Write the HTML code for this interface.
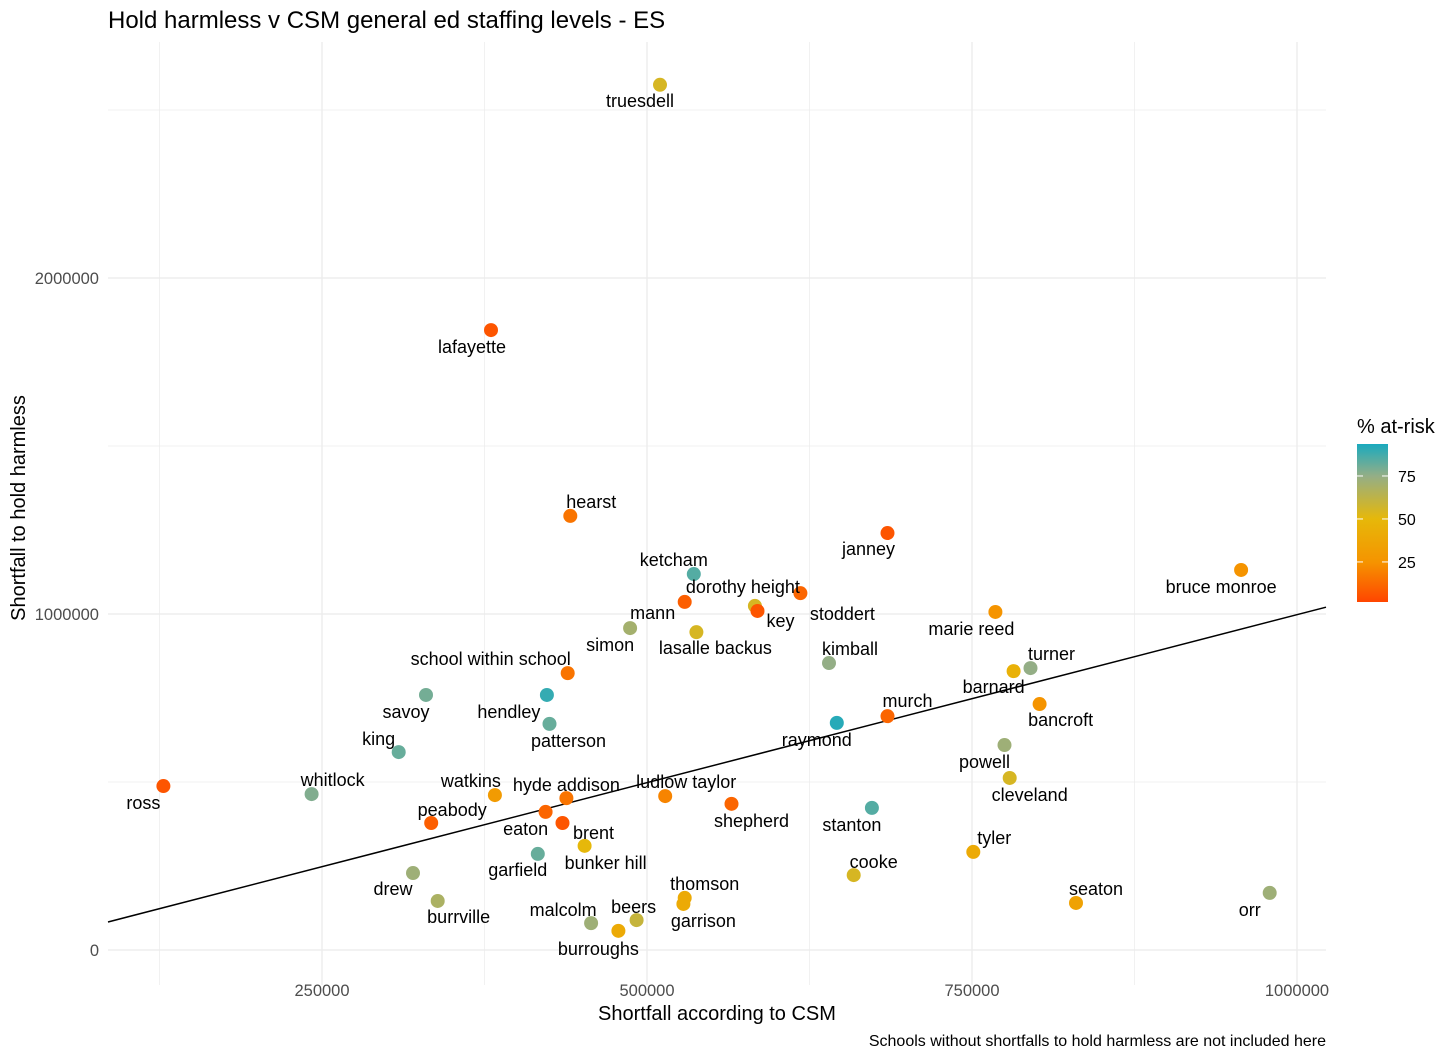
<!DOCTYPE html>
<html><head><meta charset="utf-8"><style>
body{margin:0;background:#fff;}
svg{display:block;font-family:"Liberation Sans",Arial,sans-serif;}
</style></head><body>
<svg id="chart" width="1456" height="1059" viewBox="0 0 1456 1059" xmlns="http://www.w3.org/2000/svg">
<text x="108" y="28" font-size="24" fill="#000">Hold harmless v CSM general ed staffing levels - ES</text>
<g id="grid"></g>
<g id="axes"></g>
<g id="line"></g>
<g id="points"></g>
<g id="labels"></g>
<text x="717" y="1020" font-size="20" text-anchor="middle" fill="#000">Shortfall according to CSM</text>
<text transform="translate(25,508) rotate(-90)" font-size="20" text-anchor="middle" fill="#000">Shortfall to hold harmless</text>
<text x="1326" y="1046" font-size="16" text-anchor="end" fill="#000">Schools without shortfalls to hold harmless are not included here</text>
<g id="legend">
<defs><linearGradient id="grad" x1="0" y1="1" x2="0" y2="0"></linearGradient></defs>
<text x="1357" y="433" font-size="20" fill="#000">% at-risk</text>
<rect x="1357" y="444" width="31" height="158" fill="url(#grad)"/>
</g>
</svg>
<script>
const names=["truesdell","mann","lafayette","hearst","janney","ketcham","dorothy height","key","stoddert","bruce monroe","marie reed","simon","lasalle backus","kimball","turner","barnard","bancroft","school within school","savoy","hendley","patterson","murch","raymond","king","powell","cleveland","ross","whitlock","watkins","hyde addison","ludlow taylor","shepherd","stanton","peabody","eaton","brent","bunker hill","garfield","tyler","cooke","drew","burrville","thomson","garrison","seaton","orr","malcolm","beers","burroughs"];
const csm=[510000,529000,380000,441000,685000,536000,583000,585000,618000,957000,768000,487000,538000,640000,795000,782000,802000,439000,330000,423000,425000,685000,646000,309000,775000,779000,128000,242000,383000,438000,514000,565000,673000,334000,422000,435000,452000,416000,751000,659000,320000,339000,529000,528000,830000,979000,457000,492000,478000];
const hold=[2575000,1036000,1845000,1292000,1241000,1119000,1024000,1009000,1062000,1131000,1006000,958000,946000,854000,839000,830000,732000,824000,759000,759000,673000,696000,676000,589000,610000,512000,488000,464000,461000,452000,458000,435000,423000,378000,411000,378000,310000,286000,292000,223000,229000,146000,155000,137000,140000,170000,80000,89000,57000];
const atRisk=[55,8,5,15,5,85,55,5,10,25,25,70,55,75,75,45,25,15,80,90,82,10,92,82,72,55,5,78,30,15,20,10,85,8,10,5,50,82,40,55,72,68,40,40,35,72,72,60,40];
const regSlope=[1.0];
const regIntercept=[-2000];
const xTicks=[250000,500000,750000,1000000];
const yTicks=[0,1000000,2000000];
const legendTicks=[25,50,75];
// label offsets (px, layout only)
const lblDx=[-20,-32,-19,21,-19,-20,-12,23,42,-20,-24,-20,19,21,21,-20,21,-77,-20,-38,19,20,-20,-20,-20,20,-20,21,-24,0,21,20,-20,21,-20,31,21,-20,21,20,-20,21,20,20,20,-20,-28,-3,-20];
const lblDy=[16,11,17,-14,16,-14,-19,10,21,17,17,17,16,-14,-14,16,16,-14,17,17,17,-15,17,-13,17,17,17,-14,-14,-13,-14,17,17,-13,17,10,17,16,-14,-13,16,16,-14,17,-14,17,-13,-13,18];

const X=v=>-3+v*325/250000;
const Y=v=>950-v*336/1000000;
const L0=108,L1=1326,T0=42,T1=985;
const NS="http://www.w3.org/2000/svg";
function mk(t,a,p){const e=document.createElementNS(NS,t);for(const k in a)e.setAttribute(k,a[k]);p.appendChild(e);return e;}
const stops=[[0,[255,69,0]],[25,[245,148,0]],[50,[230,184,10]],[75,[148,174,134]],[94,[26,170,190]]];
function col(v){for(let i=0;i<stops.length-1;i++){const[a,ca]=stops[i],[b,cb]=stops[i+1];if(v<=b||i==stops.length-2){let t=Math.max(0,Math.min(1,(v-a)/(b-a)));return"rgb("+ca.map((c,j)=>Math.round(c+(cb[j]-c)*t)).join(",")+")";}}}
const g=document.getElementById('grid');
for(let v=125000;v<=1000000;v+=125000){const major=v%250000===0;const l=mk('line',{x1:X(v),x2:X(v),y1:T0,y2:T1,stroke:'#ebebeb','stroke-width':major?1.3:0.7},g);}
for(let v=0;v<=2500000;v+=500000){const major=v%1000000===0;const l=mk('line',{x1:L0,x2:L1,y1:Y(v),y2:Y(v),stroke:'#ebebeb','stroke-width':major?1.3:0.7},g);}
const ax=document.getElementById('axes');
xTicks.forEach(v=>{const t=mk('text',{x:X(v),y:996,'font-size':16.5,'text-anchor':'middle',fill:'#4d4d4d'},ax);t.textContent=v;});
yTicks.forEach(v=>{const t=mk('text',{x:99,y:Y(v)+6,'font-size':16.5,'text-anchor':'end',fill:'#4d4d4d'},ax);t.textContent=v;});
const lg=document.getElementById('line');
const xa=(L0+3)*250000/325,xb=(L1+3)*250000/325;
const rl=mk('line',{x1:X(xa),y1:Y(regSlope[0]*xa+regIntercept[0]),x2:X(xb),y2:Y(regSlope[0]*xb+regIntercept[0]),stroke:'#000','stroke-width':1.5},lg);


const pg=document.getElementById('points'),lb=document.getElementById('labels');
names.forEach((n,i)=>{const c=mk('circle',{cx:X(csm[i]),cy:Y(hold[i]),r:7,fill:col(atRisk[i])},pg);


const t=mk('text',{x:X(csm[i])+lblDx[i],y:Y(hold[i])+lblDy[i]+6,'font-size':18,'text-anchor':'middle',fill:'#000'},lb);t.textContent=n;

});
const gr=document.getElementById('grad');
stops.forEach(s=>{mk('stop',{offset:((s[0]-1.7)/(93.6-1.7)*100)+'%','stop-color':col(s[0])},gr);});
const LY=v=>602-(v-1.7)*158/(93.6-1.7);
const leg=document.getElementById('legend');
legendTicks.forEach(v=>{mk('line',{x1:1357,x2:1363,y1:LY(v),y2:LY(v),stroke:'#fff','stroke-width':1},leg);mk('line',{x1:1382,x2:1388,y1:LY(v),y2:LY(v),stroke:'#fff','stroke-width':1},leg);
const t=mk('text',{x:1398,y:LY(v)+6,'font-size':16,fill:'#000'},leg);t.textContent=v;

});
</script>
</body></html>
